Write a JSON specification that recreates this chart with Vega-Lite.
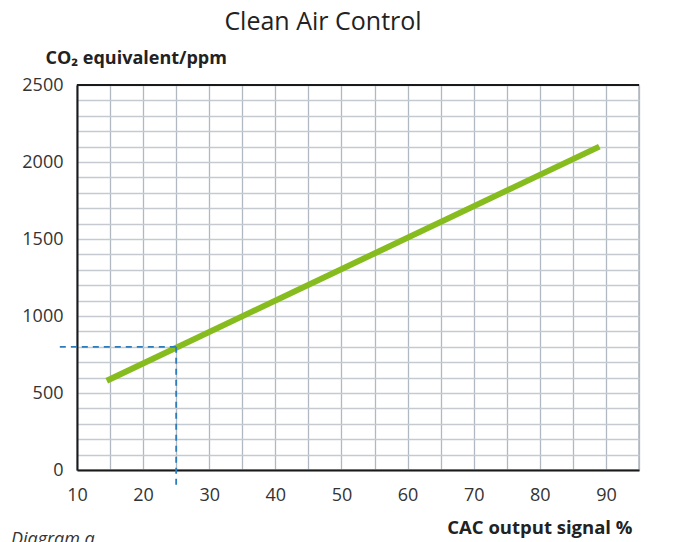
{
  "$schema": "https://vega.github.io/schema/vega-lite/v6.json",
  "autosize": "none",
  "width": 562,
  "height": 385,
  "padding": {"left": 77, "top": 85, "right": 44, "bottom": 72},
  "background": "white",
  "config": {
    "font": "Open Sans",
    "view": {"stroke": "#b0b6bd", "strokeWidth": 1.5}
  },
  "title": {
    "text": "Clean Air Control",
    "fontSize": 25,
    "fontWeight": "normal",
    "color": "#222222",
    "anchor": "middle",
    "dx": -35,
    "offset": 14
  },
  "datasets": {
    "curve": [
      {"signal": 14.5, "ppm": 580},
      {"signal": 89, "ppm": 2100}
    ],
    "guide": [
      {"seg": "h", "signal": 7.4, "ppm": 800},
      {"seg": "h", "signal": 25, "ppm": 800},
      {"seg": "v", "signal": 25, "ppm": 800},
      {"seg": "v", "signal": 25, "ppm": -97}
    ],
    "top": [{"signal": 10, "signal2": 95, "ppm": 2500}],
    "note": [{"signal": 0, "ppm": -487, "label": "Diagram a"}]
  },
  "encoding": {
    "x": {
      "field": "signal", "type": "quantitative",
      "scale": {"domain": [10, 95], "nice": false, "zero": false},
      "axis": {
        "values": [10,15,20,25,30,35,40,45,50,55,60,65,70,75,80,85,90,95],
        "labelExpr": "datum.value % 10 == 0 && datum.value < 95 ? datum.label : ''",
        "labelOverlap": false, "labelFlush": false,
        "labelFontSize": 18, "labelColor": "#333333", "labelPadding": 16,
        "ticks": false,
        "domainColor": "#1a1a1a", "domainWidth": 2,
        "grid": true, "gridColor": "#b0b8c2", "gridWidth": 1.3,
        "title": "CAC output signal %",
        "titleFontSize": 18.5, "titleFontWeight": "bold", "titleColor": "#222222",
        "titleAlign": "right", "titleAnchor": "end", "titleX": 555, "titleY": 63,
        "titleBaseline": "alphabetic"
      }
    },
    "y": {
      "field": "ppm", "type": "quantitative",
      "scale": {"domain": [0, 2500], "nice": false},
      "axis": {
        "values": [0,100,200,300,400,500,600,700,800,900,1000,1100,1200,1300,1400,1500,1600,1700,1800,1900,2000,2100,2200,2300,2400,2500],
        "labelExpr": "datum.value % 500 == 0 ? '' + datum.value : ''",
        "labelOverlap": false, "labelFlush": false,
        "labelFontSize": 18, "labelColor": "#333333", "labelPadding": 14,
        "ticks": false,
        "domainColor": "#1a1a1a", "domainWidth": 2,
        "grid": true, "gridColor": "#c4cacf", "gridWidth": 1.3,
        "title": "CO₂ equivalent/ppm",
        "titleFontSize": 18, "titleFontWeight": "bold", "titleColor": "#222222",
        "titleAngle": 0, "titleAlign": "left", "titleBaseline": "alphabetic",
        "titleX": -32, "titleY": -22
      }
    }
  },
  "layer": [
    {
      "data": {"name": "curve"},
      "mark": {"type": "line", "color": "#86bc1e", "strokeWidth": 6, "strokeCap": "butt"}
    },
    {
      "data": {"name": "guide"},
      "mark": {"type": "line", "color": "#2b7bbd", "strokeWidth": 1.8, "strokeDash": [6, 5]},
      "encoding": {
        "detail": {"field": "seg"}
      }
    },
    {
      "data": {"name": "top"},
      "mark": {"type": "rule", "color": "#1a1a1a", "strokeWidth": 2},
      "encoding": {"x2": {"field": "signal2"}}
    },
    {
      "data": {"name": "note"},
      "mark": {"type": "text", "align": "left", "baseline": "alphabetic", "fontSize": 18, "fontStyle": "italic", "color": "#333333"},
      "encoding": {
        "text": {"field": "label"}
      }
    }
  ]
}
